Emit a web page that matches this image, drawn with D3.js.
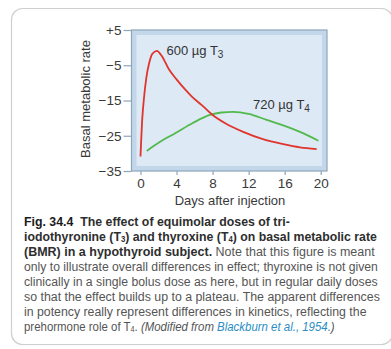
<!DOCTYPE html>
<html>
<head>
<meta charset="utf-8">
<script src="https://cdn.jsdelivr.net/npm/d3@7"></script>
<style>
  html, body { margin: 0; padding: 0; background: #fff; }
  svg { display: block; font-family: "Liberation Sans", Arial, sans-serif; }
</style>
</head>
<body>
<svg width="391" height="349"></svg>
<script>
const width = 391;
const height = 349;

// days after injection, basal metabolic rate
const t3Days = [0, 0.2, 0.4, 0.65, 0.95, 1.3, 1.8, 2.4, 3.1, 4, 5, 5.7, 6.8, 7.9, 9.5, 11.4, 13.5, 15.85, 17.7, 19.55];
const t3Bmr = [-30.9, -20, -14, -8.5, -4.5, -1.8, -0.9, -2.5, -5.9, -9, -12, -13.9, -16.3, -18.9, -21.6, -23.9, -25.9, -27.4, -28.3, -28.8];
const t4Days = [0.7, 2, 3.85, 5.8, 7.7, 9, 10.3, 12, 14, 16, 17.7, 19.75];
const t4Bmr = [-29.3, -27, -24.3, -21.4, -19.1, -18.4, -18.2, -18.8, -20.5, -22.2, -23.9, -26.4];

const xTicks = [0, 4, 8, 12, 16, 20];
const yTicks = [5, -5, -15, -25, -35];

const captionLines = [
    [["Fig. 34.4", "fig"], ["  The effect of equimolar doses of tri-", "b"]],
    [["iodothyronine (T", "b"], ["3", "bsub"], [") and thyroxine (T", "b"], ["4", "bsub"], [") on basal metabolic rate", "b"]],
    [["(BMR) in a hypothyroid subject.", "b"], [" Note that this figure is meant", "n"]],
    [["only to illustrate overall differences in effect; thyroxine is not given", "n"]],
    [["clinically in a single bolus dose as here, but in regular daily doses", "n"]],
    [["so that the effect builds up to a plateau. The apparent differences", "n"]],
    [["in potency really represent differences in kinetics, reflecting the", "n"]],
    [["prehormone role of T", "n"], ["4", "nsub"], [". ", "n"], ["(Modified from ", "i"], ["Blackburn et al., 1954.", "l"], [")", "i"]],
];
const captionRight = [290, 377, 375, 378, 378, 380, 367, 335];

const svg = d3.select("svg");

// card
svg.append("rect")
    .attr("x", 11.5).attr("y", 8.5)
    .attr("width", 381).attr("height", 336)
    .attr("rx", 11)
    .attr("fill", "#fff")
    .attr("stroke", "#cfcfcf")
    .attr("stroke-width", 1.2);

const x = d3.scaleLinear().domain([0, 20]).range([140.5, 320.7]);
const y = d3.scaleLinear().domain([-35, 5]).range([171, 30]);

const box = { x0: 131.5, x1: 327, y0: 30, y1: 171 };

svg.append("rect")
    .attr("x", box.x0).attr("y", box.y0)
    .attr("width", box.x1 - box.x0).attr("height", box.y1 - box.y0)
    .attr("fill", "#c3d7ea")
    .attr("stroke", "#8ea6ba")
    .attr("stroke-width", 1.2);
svg.append("rect")
    .attr("x", box.x0 + 5).attr("y", box.y0 + 5)
    .attr("width", box.x1 - box.x0 - 10).attr("height", box.y1 - box.y0 - 10)
    .attr("fill", "#dde9f5");

const fmt = (d) => (d > 0 ? "+" + d : "\u2212" + Math.abs(d));

const yAxis = svg.append("g")
    .attr("transform", `translate(${box.x0},0)`)
    .call(d3.axisLeft(y).tickValues(yTicks).tickFormat(fmt).tickSize(8).tickPadding(2))
    .call((g) => g.select(".domain").remove());
yAxis.selectAll(".tick line").attr("stroke", "#8ea6ba").attr("stroke-width", 1.2);
yAxis.selectAll(".tick text")
    .attr("fill", "#3a3a3a")
    .style("font-size", "13.5px")
    .style("font-family", "Liberation Sans, Arial, sans-serif");

const xAxis = svg.append("g")
    .attr("transform", `translate(0,${box.y1})`)
    .call(d3.axisBottom(x).tickValues(xTicks).tickSize(4).tickPadding(3))
    .call((g) => g.select(".domain").remove());
xAxis.selectAll(".tick line").attr("stroke", "#8ea6ba").attr("stroke-width", 1.2);
xAxis.selectAll(".tick text")
    .attr("fill", "#3a3a3a")
    .style("font-size", "13.5px")
    .style("font-family", "Liberation Sans, Arial, sans-serif");

// curves
const line = d3.line()
    .x((d) => x(d[0]))
    .y((d) => y(d[1]))
    .curve(d3.curveMonotoneX);

svg.append("path")
    .datum(t4Days.map((d, i) => [d, t4Bmr[i]]))
    .attr("d", line)
    .attr("fill", "none")
    .attr("stroke", "#52b94c")
    .attr("stroke-width", 1.8);

svg.append("path")
    .datum(t3Days.map((d, i) => [d, t3Bmr[i]]))
    .attr("d", line)
    .attr("fill", "none")
    .attr("stroke", "#e0352c")
    .attr("stroke-width", 1.8);

// series labels
const seriesLabel = (xp, yp, main, sub) => {
    const t = svg.append("text")
        .attr("x", xp).attr("y", yp)
        .attr("fill", "#333")
        .style("font-size", "13px");
    t.append("tspan").text(main);
    t.append("tspan").attr("dy", 3).style("font-size", "10px").text(sub);
};
seriesLabel(166.5, 55, "600 \u00b5g T", "3");
seriesLabel(253, 109, "720 \u00b5g T", "4");

// axis titles
svg.append("text")
    .attr("transform", "translate(90,99) rotate(-90)")
    .attr("text-anchor", "middle")
    .attr("fill", "#3a3a3a")
    .style("font-size", "13px")
    .text("Basal metabolic rate");

svg.append("text")
    .attr("x", 230).attr("y", 205)
    .attr("text-anchor", "middle")
    .attr("fill", "#3a3a3a")
    .style("font-size", "13px")
    .text("Days after injection");

// caption: each line squeezed horizontally to the width it has in the figure
const styles = {
    fig: { weight: "bold", fill: "#1a1a1a" },
    b: { weight: "bold", fill: "#2e2e2e" },
    bsub: { weight: "bold", fill: "#2e2e2e", sub: true },
    n: { weight: "normal", fill: "#555" },
    nsub: { weight: "normal", fill: "#555", sub: true },
    i: { weight: "normal", fill: "#555", italic: true },
    l: { weight: "normal", fill: "#2b8dc4", italic: true },
};
const capLeft = 24;
captionLines.forEach((segs, li) => {
    const g = svg.append("g");
    const t = g.append("text")
        .attr("x", 0)
        .attr("y", 0)
        .style("font-size", "13.5px")
        .style("white-space", "pre");
    let shifted = false;
    segs.forEach(([txt, key]) => {
        const s = styles[key];
        const ts = t.append("tspan")
            .text(txt)
            .attr("fill", s.fill)
            .style("font-weight", s.weight)
            .style("font-style", s.italic ? "italic" : "normal");
        if (s.sub) {
            ts.attr("dy", 1.2).style("font-size", "8.5px");
            shifted = true;
        } else if (shifted) {
            ts.attr("dy", -1.2);
            shifted = false;
        }
    });
    const natural = t.node().getComputedTextLength();
    const k = (captionRight[li] - capLeft) / natural;
    g.attr("transform", `translate(${capLeft},${225.5 + li * 15}) scale(${k},1)`);
});
</script>
</body>
</html>
